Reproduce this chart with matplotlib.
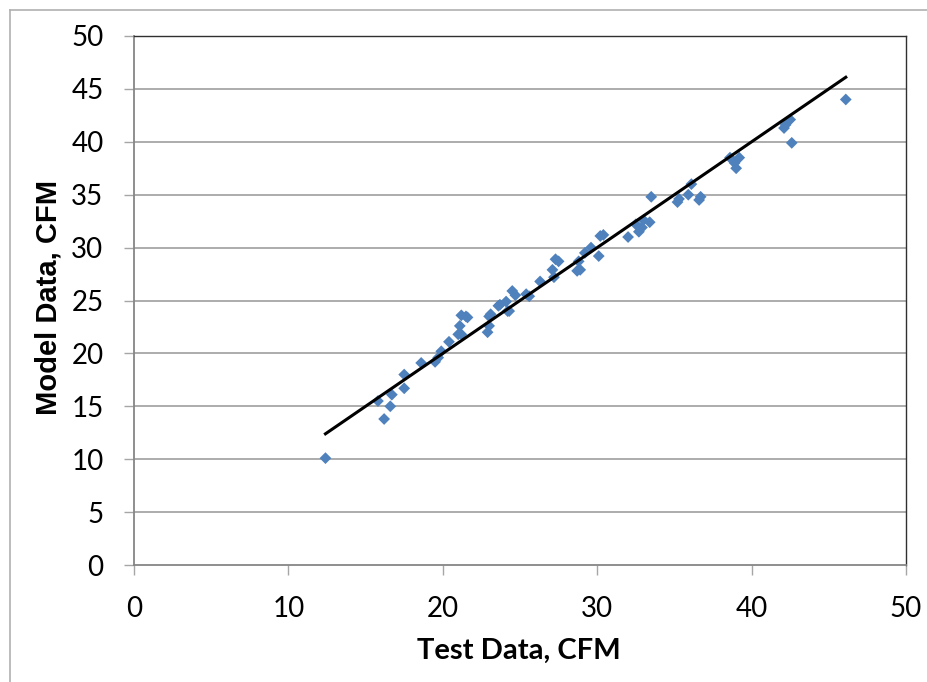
import matplotlib.pyplot as plt
from matplotlib.lines import Line2D

# test vs model airflow, CFM
test_cfm = [12.4, 15.8, 16.2, 16.6, 16.7, 17.5, 17.5, 18.6, 19.5, 19.7, 19.9, 20.4,
            21.0, 21.2, 21.1, 21.2, 21.6, 21.5, 22.9, 23.0, 23.0, 23.1, 23.6, 23.7,
            24.1, 24.2, 24.3, 24.5, 24.7, 25.4, 25.6, 26.3, 27.1, 27.2, 27.3, 27.5,
            28.7, 28.8, 28.9, 29.2, 29.6, 30.1, 30.2, 30.4, 32.0, 32.5, 32.7, 32.9,
            33.0, 33.4, 33.5, 35.2, 35.3, 35.9, 36.1, 36.6, 36.7, 38.6, 38.9, 39.0,
            39.2, 42.1, 42.2, 42.5, 42.6, 46.1]
model_cfm = [10.1, 15.5, 13.8, 15.0, 16.1, 16.7, 18.0, 19.1, 19.2, 19.6, 20.2, 21.1,
             21.8, 21.8, 22.6, 23.6, 23.4, 23.5, 22.0, 22.6, 23.5, 23.7, 24.5, 24.6,
             24.9, 24.0, 24.0, 25.9, 25.5, 25.6, 25.4, 26.8, 27.9, 27.2, 28.9, 28.7,
             27.8, 28.7, 27.9, 29.5, 30.0, 29.2, 31.1, 31.2, 31.0, 32.2, 31.5, 31.9,
             32.6, 32.4, 34.8, 34.3, 34.6, 35.0, 36.0, 34.5, 34.8, 38.5, 38.0, 37.5,
             38.5, 41.3, 41.6, 42.1, 39.9, 44.0]

yticks = [0, 5, 10, 15, 20, 25, 30, 35, 40, 45, 50]
xticks = [0, 10, 20, 30, 40, 50]

fig = plt.figure(figsize=(9.28, 6.82), dpi=100)
ax = fig.add_axes([134 / 928, 1 - 565 / 682, (906 - 134) / 928, (565 - 36) / 682])

# outer chart border (only left and top edges show)
fig.add_artist(Line2D([10.5 / 928, 10.5 / 928], [0, 1 - 9.5 / 682], color='#b0b0b0', lw=1.2))
fig.add_artist(Line2D([10.5 / 928, 1], [1 - 9.5 / 682, 1 - 9.5 / 682], color='#b0b0b0', lw=1.2))

for t in yticks[1:]:
    ax.axhline(t, color='#a6a6a6', lw=1.3, zorder=0)

ax.scatter(test_cfm, model_cfm, marker='D', s=36, color='#4F81BD', edgecolors='none', zorder=2)

# 1:1 line over the range of the test data
lo, hi = min(test_cfm), max(test_cfm)
ax.plot([lo, hi], [lo, hi], color='black', lw=2.2, zorder=3)

ax.set_xlim(0, 50)
ax.set_ylim(0, 50)
ax.set_xticks(xticks)
ax.set_yticks(yticks)

tick_font = ['Lato', 'DejaVu Sans']
ax.set_xticklabels([str(t) for t in xticks], fontsize=20, family=tick_font)
ax.set_yticklabels([str(t) for t in yticks], fontsize=20, family=tick_font)
ax.tick_params(direction='out', length=7, width=1, color='#a6a6a6', pad=15)

for side in ['left', 'bottom']:
    ax.spines[side].set_color('#868686')
    ax.spines[side].set_linewidth(1.3)
for side in ['top', 'right']:
    ax.spines[side].set_color('#303030')
    ax.spines[side].set_linewidth(1.0)

fig.text(519 / 928, 1 - 651 / 682, 'Test Data, CFM', fontsize=21, fontweight='bold',
         family=tick_font, ha='center', va='center')
fig.text(49 / 928, 1 - 297 / 682, 'Model Data, CFM', fontsize=21, fontweight='bold',
         family=['Liberation Sans', 'DejaVu Sans'], rotation=90, ha='center', va='center')

fig.savefig('out.png', dpi=100)
